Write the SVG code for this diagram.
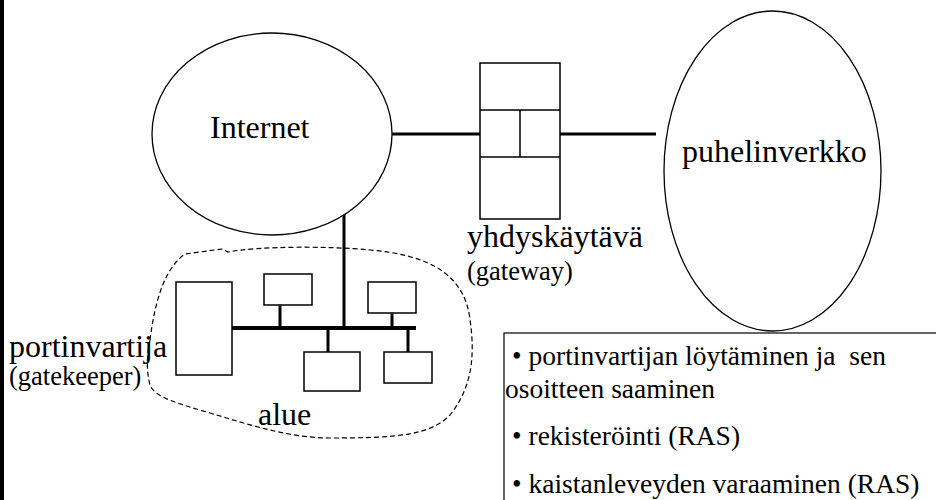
<svg xmlns="http://www.w3.org/2000/svg" width="936" height="500" viewBox="0 0 936 500" font-family="'Liberation Serif', 'Times New Roman', Times, serif">
<style>
.big{font-size:32px}
.sub{font-size:26.5px}
.lst{font-size:27.5px}
.sh{fill:#fff;stroke:#000;stroke-width:1.3}
.bx{fill:#fff;stroke:#000;stroke-width:1.5}
.ln{stroke:#000;fill:none}
</style>
<rect width="936" height="500" fill="#fff"/>
<g id="connectors">
<line class="ln" x1="392" y1="134" x2="480" y2="134" stroke-width="3"/>
<line class="ln" x1="560" y1="134" x2="656" y2="134" stroke-width="3"/>
<line class="ln" x1="344" y1="212" x2="344" y2="328" stroke-width="3"/>
<line class="ln" x1="232" y1="328" x2="416" y2="328" stroke-width="4"/>
<line class="ln" x1="280" y1="305" x2="280" y2="328" stroke-width="3"/>
<line class="ln" x1="392" y1="313" x2="392" y2="328" stroke-width="3"/>
<line class="ln" x1="328" y1="328" x2="328" y2="352" stroke-width="3"/>
<line class="ln" x1="408" y1="328" x2="408" y2="352" stroke-width="3"/>
</g>
<g id="internet">
<ellipse class="sh" cx="272" cy="134" rx="120" ry="101"/>
<text class="big" x="210" y="138">Internet</text>
</g>
<g id="gateway">
<rect class="bx" x="480" y="63" width="80" height="156"/>
<line class="ln" x1="480" y1="110" x2="560" y2="110" stroke-width="1.5"/>
<line class="ln" x1="480" y1="157" x2="560" y2="157" stroke-width="1.5"/>
<line class="ln" x1="520" y1="110" x2="520" y2="157" stroke-width="1.5"/>
<text class="big" x="467" y="247">yhdyskäytävä</text>
<text class="sub" x="467" y="280">(gateway)</text>
</g>
<g id="puhelinverkko">
<ellipse class="sh" cx="772.5" cy="171" rx="108.5" ry="160"/>
<text class="big" x="682" y="162">puhelinverkko</text>
</g>
<g id="alue">
<path class="ln" stroke-width="1.2" stroke-dasharray="5,3" d="M150,340 C155,300 165,268 185,254 L222,249 L228,252 C260,246 330,246 370,250 C430,255 465,275 470,320 C476,360 470,390 450,415 C430,435 400,438 330,438 C290,438 250,425 210,413 C180,404 155,398 150,385 C146,370 147,355 150,340 Z"/>
<text class="big" x="258" y="425">alue</text>
</g>
<g id="gatekeeper">
<rect class="bx" x="176" y="282" width="56" height="93"/>
<text class="big" x="9" y="357">portinvartija</text>
<text class="sub" x="9" y="385">(gatekeeper)</text>
</g>
<g id="host1"><rect class="bx" x="264" y="274" width="48" height="31"/></g>
<g id="host2"><rect class="bx" x="368" y="282" width="48" height="31"/></g>
<g id="host3"><rect class="bx" x="304" y="352" width="56" height="39"/></g>
<g id="host4"><rect class="bx" x="384" y="352" width="48" height="31"/></g>
<g id="notes">
<rect x="504" y="333" width="440" height="180" fill="#fff" stroke="#000" stroke-width="1.2"/>
<text class="lst" x="512" y="365" xml:space="preserve">• portinvartijan löytäminen ja  sen</text>
<text class="lst" x="505" y="398">osoitteen saaminen</text>
<text class="lst" x="512" y="445">• rekisteröinti (RAS)</text>
<text class="lst" x="512" y="493">• kaistanleveyden varaaminen (RAS)</text>
</g>
<line x1="2" y1="0" x2="2" y2="500" stroke="#000" stroke-width="4"/>
</svg>
